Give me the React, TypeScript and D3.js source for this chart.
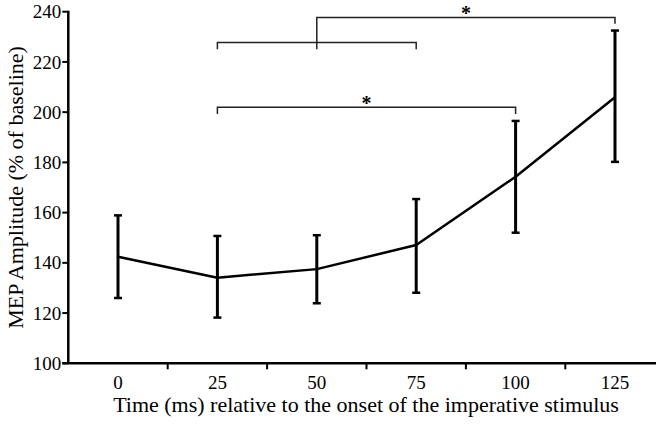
import React, { useEffect, useRef } from "react";
import * as d3 from "d3";

// time points (ms) relative to the imperative stimulus
const times = ["0", "25", "50", "75", "100", "125"];
// MEP amplitude, % of baseline
const means = [142.4, 134.1, 137.5, 147.1, 174.3, 205.9];
const upper = [158.9, 150.7, 151.0, 165.4, 196.5, 232.5];
const lower = [126.0, 118.2, 123.9, 128.1, 152.0, 180.2];
const yTicks = [100, 120, 140, 160, 180, 200, 220, 240];

// significance brackets: from / to category, bar level, leg ends
const brackets = [
  { from: "25", to: "75", level: 227.7, leftEnd: 225, rightEnd: 225, star: false },
  { from: "50", to: "125", level: 237.7, leftEnd: 225, rightEnd: 235.2, star: true },
  { from: "25", to: "100", level: 202, leftEnd: 199.3, rightEnd: 199.3, star: true },
];

const W = 656;
const H = 427;
const FONT = "Liberation Serif, Times New Roman, Times, serif";

function App() {
  const svgRef = useRef<SVGSVGElement | null>(null);

  useEffect(() => {
    drawChart();
  }, []);

  const drawChart = () => {
    const svg = d3.select(svgRef.current);
    svg.selectAll("*").remove();
    svg.style("font-family", FONT);

    const left = 68.3;
    const step = 99.4;
    const xScale = d3
      .scaleBand<string>()
      .domain(times)
      .range([left, left + step * times.length])
      .padding(0);
    const cx = (t: string) => (xScale(t) as number) + xScale.bandwidth() / 2;

    const yScale = d3.scaleLinear().domain([100, 240]).range([363.3, 11.7]);

    // y axis
    svg
      .append("line")
      .attr("x1", left)
      .attr("x2", left)
      .attr("y1", yScale(240) - 1)
      .attr("y2", yScale(100))
      .attr("stroke", "#000")
      .attr("stroke-width", 2.5);

    svg
      .selectAll(".ytick")
      .data(yTicks)
      .enter()
      .append("line")
      .attr("x1", left - 6)
      .attr("x2", left)
      .attr("y1", (d) => yScale(d))
      .attr("y2", (d) => yScale(d))
      .attr("stroke", "#000")
      .attr("stroke-width", 2);

    svg
      .selectAll(".ylab")
      .data(yTicks)
      .enter()
      .append("text")
      .attr("x", left - 7)
      .attr("y", (d) => yScale(d))
      .attr("dy", "0.35em")
      .attr("text-anchor", "end")
      .style("font-family", FONT)
      .style("font-size", "19px")
      .text((d) => d);

    // x axis
    svg
      .append("line")
      .attr("x1", left - 6)
      .attr("x2", W + 10)
      .attr("y1", yScale(100))
      .attr("y2", yScale(100))
      .attr("stroke", "#000")
      .attr("stroke-width", 2.5);

    svg
      .selectAll(".xtick")
      .data(times.slice(1))
      .enter()
      .append("line")
      .attr("x1", (d) => xScale(d) as number)
      .attr("x2", (d) => xScale(d) as number)
      .attr("y1", yScale(100))
      .attr("y2", yScale(100) + 6)
      .attr("stroke", "#000")
      .attr("stroke-width", 2);

    svg
      .selectAll(".xlab")
      .data(times)
      .enter()
      .append("text")
      .attr("x", (d) => cx(d))
      .attr("y", 389)
      .attr("text-anchor", "middle")
      .style("font-family", FONT)
      .style("font-size", "19px")
      .text((d) => d);

    // titles
    svg
      .append("text")
      .attr("x", 366)
      .attr("y", 412)
      .attr("text-anchor", "middle")
      .style("font-family", FONT)
      .style("font-size", "22px")
      .text("Time (ms) relative to the onset of the imperative stimulus");

    svg
      .append("text")
      .attr("transform", `translate(23,187.5) rotate(-90)`)
      .attr("text-anchor", "middle")
      .style("font-family", FONT)
      .style("font-size", "22px")
      .text("MEP Amplitude (% of baseline)");

    // error bars
    const g = svg.append("g");
    times.forEach((t, i) => {
      const x = cx(t);
      g.append("line")
        .attr("x1", x)
        .attr("x2", x)
        .attr("y1", yScale(upper[i]))
        .attr("y2", yScale(lower[i]))
        .attr("stroke", "#000")
        .attr("stroke-width", 3);
      [upper[i], lower[i]].forEach((v) => {
        g.append("line")
          .attr("x1", x - 4)
          .attr("x2", x + 4)
          .attr("y1", yScale(v))
          .attr("y2", yScale(v))
          .attr("stroke", "#000")
          .attr("stroke-width", 2.5);
      });
    });

    // mean line
    const line = d3
      .line<number>()
      .x((_, i) => cx(times[i]))
      .y((d) => yScale(d));

    svg
      .append("path")
      .datum(means)
      .attr("fill", "none")
      .attr("stroke", "#000")
      .attr("stroke-width", 2.5)
      .attr("stroke-linejoin", "round")
      .attr("d", line);

    // brackets
    brackets.forEach((b) => {
      const x1 = cx(b.from);
      const x2 = cx(b.to);
      const y = yScale(b.level);
      svg
        .append("path")
        .attr(
          "d",
          `M${x1},${yScale(b.leftEnd)}V${y}H${x2}V${yScale(b.rightEnd)}`
        )
        .attr("fill", "none")
        .attr("stroke", "#222")
        .attr("stroke-width", 1.5);
      if (b.star) {
        svg
          .append("text")
          .attr("x", (x1 + x2) / 2)
          .attr("y", y + 2.5)
          .attr("text-anchor", "middle")
          .style("font-family", FONT)
          .style("font-size", "20px")
          .style("font-weight", "bold")
          .text("*");
      }
    });
  };

  return (
    <div>
      <svg
        ref={svgRef}
        width={W}
        height={H}
        style={{ position: "absolute", left: 0, top: 0, background: "#fff" }}
      />
    </div>
  );
}

export default App;
